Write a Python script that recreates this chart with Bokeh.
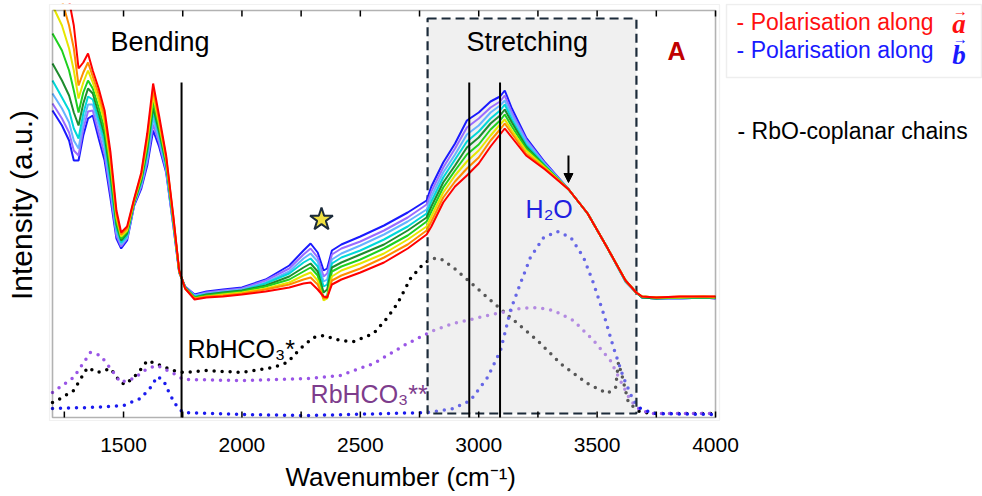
from bokeh.plotting import figure
from bokeh.models import (Range1d, FixedTicker, LinearAxis, Label, BoxAnnotation,
                          Arrow, NormalHead, Title)
from bokeh.embed import file_html
from bokeh.resources import INLINE

# ---------------- data ----------------
WAVENUMBER = [1200, 1240, 1270, 1290, 1310, 1330, 1350, 1370, 1395, 1420,
              1445, 1470, 1490, 1515, 1545, 1575, 1600, 1625, 1650, 1680,
              1710, 1735, 1760, 1800, 1850, 1920, 2000, 2100, 2200, 2260,
              2290, 2320, 2345, 2360, 2380, 2420, 2500, 2600, 2700, 2780,
              2800, 2850, 2900, 2950, 3000, 3050, 3090, 3110, 3140, 3200,
              3280, 3380, 3460, 3540, 3620, 3665, 3690, 3750, 3850, 3950, 4000]

I_RED = [477, 447, 417, 392, 349, 355, 364, 347, 329, 307,
         265, 207, 185, 191, 219, 245, 284, 334, 302, 262,
         202, 147, 129, 118, 120, 121, 123, 126, 130, 134,
         135, 128, 121, 120, 133, 138, 145, 155, 169, 183,
         191, 215, 231, 242, 254, 271, 283, 289, 280, 262,
         248, 228, 204, 171, 137, 125, 121, 120, 121, 121, 121]
I_ORANGE = [442, 417, 392, 369, 332, 345, 355, 341, 323, 301,
            259, 203, 183, 189, 218, 243, 280, 328, 298, 260,
            201, 147, 129, 119, 121, 122, 124, 128, 133, 138,
            140, 133, 119, 120, 137, 142, 149, 160, 173, 187,
            196, 220, 236, 249, 260, 277, 288, 294, 284, 264,
            249, 228, 204, 171, 137, 125, 121, 120, 121, 121, 121]
I_YELLOW = [412, 392, 369, 347, 319, 335, 347, 335, 317, 295,
            254, 200, 181, 187, 217, 241, 276, 322, 294, 258,
            199, 146, 129, 119, 121, 123, 125, 129, 135, 142,
            145, 137, 117, 119, 141, 147, 154, 164, 178, 191,
            201, 225, 242, 256, 267, 282, 293, 298, 287, 267,
            250, 228, 204, 171, 137, 125, 121, 120, 120, 121, 120]
I_LIME = [384, 367, 347, 327, 305, 325, 337, 329, 310, 288,
          248, 196, 179, 186, 216, 239, 272, 316, 290, 256,
          198, 146, 130, 120, 122, 124, 126, 131, 138, 146,
          150, 142, 119, 122, 146, 151, 158, 169, 182, 196,
          206, 230, 247, 263, 273, 288, 297, 303, 291, 269,
          251, 228, 204, 171, 137, 125, 121, 120, 120, 120, 120]
I_DKGREEN = [354, 337, 322, 305, 292, 314, 329, 324, 304, 282,
             242, 193, 177, 184, 215, 237, 268, 310, 286, 254,
             197, 146, 130, 120, 123, 125, 127, 132, 141, 150,
             154, 146, 125, 128, 150, 155, 163, 173, 187, 200,
             211, 235, 252, 270, 280, 294, 302, 308, 295, 271,
             251, 228, 204, 171, 137, 125, 120, 119, 120, 120, 120]
I_CYAN = [337, 320, 307, 289, 279, 304, 321, 318, 298, 276,
          236, 189, 175, 182, 215, 235, 264, 305, 283, 251,
          196, 146, 130, 121, 123, 125, 127, 134, 144, 155,
          159, 151, 131, 133, 154, 160, 167, 178, 191, 204,
          216, 240, 258, 276, 286, 299, 307, 313, 298, 273,
          252, 228, 204, 171, 136, 125, 120, 119, 120, 120, 120]
I_SKY = [324, 309, 295, 277, 269, 296, 313, 313, 292, 270,
         231, 186, 173, 180, 214, 233, 260, 299, 279, 249,
         195, 146, 130, 122, 124, 126, 128, 135, 146, 159,
         164, 156, 136, 138, 158, 164, 172, 183, 196, 208,
         221, 245, 263, 283, 292, 305, 312, 317, 302, 276,
         253, 228, 204, 171, 136, 125, 120, 119, 119, 120, 120]
I_PURPLE = [314, 299, 285, 267, 262, 289, 306, 307, 285, 263,
            225, 182, 171, 179, 213, 231, 256, 293, 275, 247,
            193, 145, 131, 122, 125, 127, 129, 137, 149, 163,
            169, 160, 141, 144, 163, 169, 176, 187, 200, 213,
            226, 250, 269, 290, 299, 310, 316, 322, 305, 278,
            254, 228, 204, 171, 136, 125, 120, 119, 119, 120, 119]
I_BLUE = [307, 292, 277, 257, 257, 282, 299, 302, 279, 257,
          219, 179, 169, 177, 212, 229, 252, 287, 271, 245,
          192, 145, 131, 123, 126, 128, 130, 138, 152, 167,
          174, 165, 147, 149, 167, 173, 181, 192, 205, 217,
          231, 255, 274, 297, 305, 316, 321, 327, 309, 280,
          255, 228, 204, 171, 136, 125, 120, 119, 119, 120, 119]

SPECTRA_COLORS = ["#1a1aff", "#9a6cff", "#66b3ff", "#00d8d8", "#1e8c2e",
                  "#1fd01f", "#e6e600", "#ff8c00", "#ff0000"]

# reference spectra (dotted)
RBHCO3_1_W = [1200, 1234, 1289, 1348, 1390, 1445, 1487, 1508, 1559, 1601,
              1656, 1711, 1753, 1855, 1994, 2133, 2192, 2247, 2302, 2344,
              2416, 2471, 2556, 2615, 2657, 2712, 2767, 2805, 2838, 2893,
              2965, 3037, 3134, 3248, 3345, 3459, 3544, 3578, 3590, 3607,
              3632, 3683, 3768, 4000]
RBHCO3_1_I = [15, 19, 27, 50, 45, 49, 35, 33, 44, 57,
              52, 47, 45, 47, 45, 50, 55, 69, 80, 82,
              77, 76, 84, 100, 114, 139, 154, 159, 159, 150,
              135, 120, 100, 77, 54, 34, 24, 30, 55, 40,
              15, 5, 4, 4]

RBHCO3_2_W = [1200, 1289, 1360, 1403, 1445, 1487, 1542, 1601, 1643, 1711,
              1753, 1994, 2277, 2416, 2556, 2699, 2809, 2893, 3037, 3176,
              3248, 3316, 3400, 3485, 3556, 3598, 3641, 3683, 3738, 4000]
RBHCO3_2_I = [25, 40, 65, 62, 49, 35, 39, 49, 52, 44,
              38, 37, 39, 42, 54, 74, 87, 94, 102, 109,
              110, 107, 97, 77, 57, 37, 17, 7, 4, 4]

H2O_W = [1200, 1360, 1500, 1572, 1614, 1643, 1669, 1698, 1728, 1753,
         1994, 2277, 2784, 2893, 2965, 3037, 3092, 3134, 3176, 3218,
         3274, 3333, 3389, 3443, 3485, 3527, 3569, 3611, 3653, 3683,
         3738, 4000]
H2O_I = [9, 10, 12, 19, 30, 41, 37, 22, 10, 5,
         3, 2, 5, 9, 17, 40, 67, 107, 134, 160,
         180, 186, 180, 160, 134, 104, 70, 40, 17, 9,
         4, 3]

MAJOR_TICKS = [1500, 2000, 2500, 3000, 3500, 4000]
MINOR_TICKS = [1250, 1500, 1750, 2000, 2250, 2500, 2750, 3000, 3250, 3500, 3750, 4000]

X_MIN, X_MAX = 1200, 4000          # plotted wavenumber window
Y_MIN, Y_MAX = 0, 407              # plotted intensity window (a.u.)
TICK_LEN = 6

STRETCH_BOX = (2784, 3666, 4, 399)
BAND_LINES = [1745, 2960, 3090]
BAND_LINE_TOP = 335

FONT = "Liberation Sans"

# ---------------- figure ----------------
# frame extends to the right edge so that the side legend can live inside it
p = figure(width=982, height=496, output_backend="svg", toolbar_location=None,
           x_range=Range1d(1183.1, 5127.5), y_range=Range1d(-4, 414),
           min_border_left=48, min_border_right=0, min_border_top=3,
           min_border_bottom=75, x_axis_location=None, y_axis_location=None)
p.grid.visible = False
p.outline_line_color = None
p.background_fill_color = "white"
p.border_fill_color = "white"

bottom = LinearAxis(ticker=FixedTicker(ticks=MAJOR_TICKS, minor_ticks=[]))
bottom.major_tick_in = 0
bottom.major_tick_out = 0
bottom.minor_tick_in = 0
bottom.minor_tick_out = 0
bottom.axis_line_color = None
bottom.major_tick_line_color = None
bottom.minor_tick_line_color = None
bottom.major_label_text_font = FONT
bottom.major_label_text_font_size = "21px"
bottom.major_label_text_color = "black"
bottom.major_label_standoff = 16
p.add_layout(bottom, "below")

xtitle = Title(text="Wavenumber (cm⁻¹)", align="left", offset=237, standoff=10,
               text_font=FONT, text_font_size="26px", text_font_style="normal",
               text_color="black")
p.add_layout(xtitle, "below")

left = LinearAxis(ticker=FixedTicker(ticks=[]), axis_label="\u2002Intensity (a.u.)")
left.axis_line_color = None
left.major_label_standoff = 0
left.axis_label_text_font = FONT
left.axis_label_text_font_size = "30px"
left.axis_label_text_font_style = "normal"
left.axis_label_text_color = "black"
left.axis_label_standoff = 11
p.add_layout(left, "left")

# dotted reference spectra
dot = dict(line_width=3.5, line_dash="0 8", line_cap="round")
p.line(RBHCO3_1_W, RBHCO3_1_I, line_color="black", **dot)
p.line(RBHCO3_2_W, RBHCO3_2_I, line_color="#9955e6", **dot)
p.line(H2O_W, H2O_I, line_color="#1a1aee", **dot)

# stretching region box (semi-transparent over the dotted curves)
p.quad(left=[STRETCH_BOX[0]], right=[STRETCH_BOX[1]], bottom=[STRETCH_BOX[2]],
       top=[STRETCH_BOX[3]], fill_color="#d9d9d9", fill_alpha=0.4,
       line_color="#1c2b3a", line_width=2.2, line_dash="9 5")

# measured spectra
for ys, c in zip([I_BLUE, I_PURPLE, I_SKY, I_CYAN, I_DKGREEN, I_LIME,
                  I_YELLOW, I_ORANGE, I_RED], SPECTRA_COLORS):
    p.line(WAVENUMBER, ys, line_color=c, line_width=2)

# band marker lines
p.segment(x0=BAND_LINES, x1=BAND_LINES, y0=[Y_MIN] * 3, y1=[BAND_LINE_TOP] * 3,
          line_color="black", line_width=2)

# star
p.scatter(x=[2336], y=[198], marker="star", size=24, fill_color="#f0e040",
          line_color="#1c2b3a", line_width=2)

# arrow
p.add_layout(Arrow(end=NormalHead(size=9, fill_color="black", line_color="black"),
                   x_start=3379, y_start=262, x_end=3379, y_end=235,
                   line_width=2, line_color="black"))

# inward ticks on bottom and top edges of the plot box
n = len(MINOR_TICKS)
p.segment(x0=MINOR_TICKS, x1=MINOR_TICKS, y0=[Y_MIN] * n, y1=[Y_MIN + TICK_LEN] * n,
          line_color="black", line_width=1.5)
p.segment(x0=MINOR_TICKS, x1=MINOR_TICKS, y0=[Y_MAX] * n, y1=[Y_MAX - TICK_LEN] * n,
          line_color="black", line_width=1.5)

# mask anything drawn above the plot box, then outer grey frame and black plot box
p.add_layout(BoxAnnotation(left=1183.1, right=4030, bottom=Y_MAX + 0.8, top=414,
                           fill_color="white", fill_alpha=1, line_color=None))
p.add_layout(BoxAnnotation(left=1187.3, right=4016.8, bottom=-3, top=413,
                           fill_color=None, line_color="#d0d0d0", line_width=1.2))
p.add_layout(BoxAnnotation(left=X_MIN, right=X_MAX, bottom=Y_MIN, top=Y_MAX,
                           fill_color=None, line_color="black", line_width=1.6))


def lab(x, y, text, size, color="black", style="normal", font=FONT,
        align="left", baseline="alphabetic"):
    p.add_layout(Label(x=x, y=y, text=text, text_font=font, text_font_size=size,
                       text_color=color, text_font_style=style, text_align=align,
                       text_baseline=baseline))


lab(1445, 376, "Bending", "27px")
lab(2948, 376, "Stretching", "27px")
lab(3835, 367, "A", "25px", color="#c00000", style="bold", align="center")
lab(3198, 209, "H₂O", "25px", color="#2020e0")
lab(1770, 69, "RbHCO₃*", "25px")
lab(2290, 24, "RbHCO₃**", "25px", color="#7d3c8c")

# side legend
p.add_layout(BoxAnnotation(left=4046.4, right=5123.3, bottom=340, top=413,
                           fill_color=None, line_color="#c8c8c8", line_width=1.5))
lab(4089, 396, "- Polarisation along", "23px", color="#ff1010")
lab(4089, 368, "- Polarisation along", "23px", color="#1a1aff")
lab(5028, 394, "a", "27px", color="#ff1010", style="bold italic",
    font="Liberation Serif", align="center")
lab(5028, 363, "b", "27px", color="#1a1aff", style="bold italic",
    font="Liberation Serif", align="center")
lab(5034, 407, "→", "15px", color="#ff1010", style="bold", align="center",
    baseline="middle")
lab(5034, 379, "→", "15px", color="#1a1aff", style="bold", align="center",
    baseline="middle")
lab(4093, 287, "- RbO-coplanar chains", "23px")

open("out.html", "w").write(file_html(p, INLINE))
